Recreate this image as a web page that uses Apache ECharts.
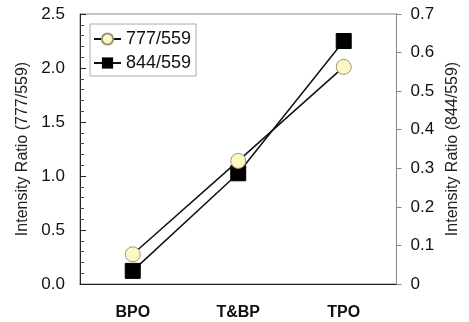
<!DOCTYPE html>
<html>
<head>
<meta charset="utf-8">
<script src="https://cdn.jsdelivr.net/npm/echarts@6/dist/echarts.min.js"></script>
<style>html,body{margin:0;padding:0;background:#fff}#c{width:469px;height:322px}</style>
</head>
<body>
<div id="c"></div>
<script>
const categories = ['BPO', 'T&BP', 'TPO'];
const ratio777 = [0.275, 1.14, 2.01];
const ratio844 = [0.034, 0.287, 0.63];
const leftTicks = [0, 2.5, 0.5];
const rightTicks = [0, 0.7, 0.1];

const chart = echarts.init(document.getElementById('c'));
const font = 'Liberation Sans, Arial, sans-serif';
chart.setOption({
  animation: false,
  grid: { left: 80, right: 70, top: 14, bottom: 38, show: true, borderColor: '#888', borderWidth: 1 },
  legend: {
    left: 90, top: 24, orient: 'vertical', itemGap: 6, itemWidth: 27, itemHeight: 14,
    padding: [6, 5, 4, 3],
    borderColor: '#aaa', borderWidth: 1,
    textStyle: { fontFamily: font, fontSize: 18, color: '#111' },
    data: ['777/559', '844/559']
  },
  xAxis: {
    type: 'category', data: categories, boundaryGap: true,
    axisLine: { lineStyle: { color: '#222', width: 1 } },
    axisTick: { inside: true, length: 5, lineStyle: { color: '#222' } },
    axisLabel: { fontFamily: font, fontSize: 16, fontWeight: 'bold', color: '#111', margin: 21 }
  },
  yAxis: [{
    type: 'value', min: leftTicks[0], max: leftTicks[1], interval: leftTicks[2],
    name: 'Intensity Ratio (777/559)', nameLocation: 'middle', nameGap: 47,
    nameTextStyle: { fontFamily: font, fontSize: 16, color: '#222' },
    axisLine: { show: true, lineStyle: { color: '#222' } },
    axisTick: { show: true, inside: true, length: 6, lineStyle: { color: '#222' } },
    minorTick: { show: true, splitNumber: 5, length: 4, lineStyle: { color: '#444' } },
    splitLine: { show: false },
    axisLabel: { fontFamily: font, fontSize: 17, color: '#111', margin: 15, formatter: v => v.toFixed(1) }
  }, {
    type: 'value', min: rightTicks[0], max: rightTicks[1], interval: rightTicks[2],
    name: 'Intensity Ratio (844/559)', nameLocation: 'middle', nameGap: 48, nameRotate: 90,
    nameTextStyle: { fontFamily: font, fontSize: 16, color: '#222' },
    axisLine: { show: true, lineStyle: { color: '#888' } },
    axisTick: { show: true, inside: false, length: 5, lineStyle: { color: '#888' } },
    splitLine: { show: false },
    axisLabel: { fontFamily: font, fontSize: 17, color: '#111', margin: 14,
      formatter: v => v === 0 ? '0' : v.toFixed(1) }
  }],
  series: [{
    name: '777/559', type: 'line', yAxisIndex: 0, data: ratio777,
    symbol: 'circle', symbolSize: 15,
    lineStyle: { color: '#111', width: 1.5 },
    itemStyle: { color: '#fdf7c6', borderColor: '#9a9770', borderWidth: 1 },
    z: 3
  }, {
    name: '844/559', type: 'line', yAxisIndex: 1, data: ratio844,
    symbol: 'rect', symbolSize: 15,
    lineStyle: { color: '#111', width: 1.5 },
    itemStyle: { color: '#000', borderColor: '#000' },
    z: 2
  }]
});
</script>
</body>
</html>
